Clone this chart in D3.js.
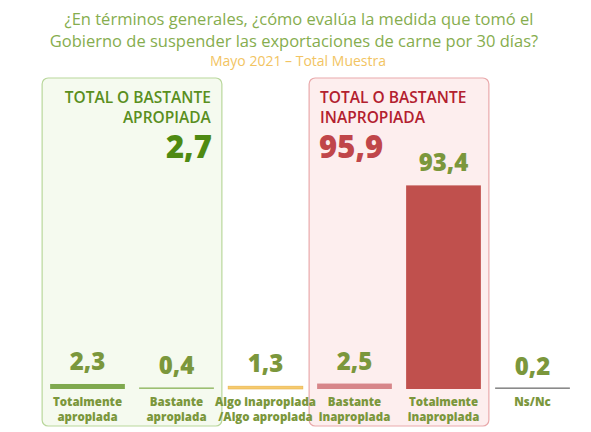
<!DOCTYPE html>
<html>
<head>
<meta charset="utf-8">
<script src="https://cdn.jsdelivr.net/npm/d3@7"></script>
<style>
  body { margin: 0; background: #fff; }
  text { font-family: "Open Sans", "Noto Sans", sans-serif; }
</style>
</head>
<body>
<div id="chart"></div>
<script>
const svgWidth = 591, svgHeight = 432;

const categories = ["Totalmente apropiada", "Bastante apropiada", "Algo inapropiada /Algo apropiada",
                    "Bastante inapropiada", "Totalmente inapropiada", "Ns/Nc"];
const labelLines = [["Totalmente", "apropiada"], ["Bastante", "apropiada"], ["Algo inapropiada", "/Algo apropiada"],
                    ["Bastante", "inapropiada"], ["Totalmente", "inapropiada"], ["Ns/Nc"]];
const values = [2.3, 0.4, 1.3, 2.5, 93.4, 0.2];
const barColors = ["#7fa94f", "#9cbf72", "#f6cb6e", "#d7868a", "#c0504d", "#8a8a8a"];
const groupTitles = ["TOTAL O BASTANTE|APROPIADA", "TOTAL O BASTANTE|INAPROPIADA"];
const groupTotals = [2.7, 95.9];

const fmt = v => String(v).replace(".", ",");

let svg = d3.select("#chart")
    .append("svg")
    .attr("width", svgWidth)
    .attr("height", svgHeight);

let x = d3.scaleBand()
    .domain(categories)
    .range([43, 577])
    .paddingInner(0.16)
    .paddingOuter(0.08);

let y = d3.scaleLinear()
    .domain([0, 100])
    .range([389, 171]);

// title
svg.append("text")
    .attr("x", 299).attr("y", 25)
    .attr("text-anchor", "middle")
    .attr("fill", "#86ad4e")
    .style("font-size", "16.5px")
    .text("¿En términos generales, ¿cómo evalúa la medida que tomó el");
svg.append("text")
    .attr("x", 294).attr("y", 47)
    .attr("text-anchor", "middle")
    .attr("fill", "#86ad4e")
    .style("font-size", "16.5px")
    .text("Gobierno de suspender las exportaciones de carne por 30 días?");
svg.append("text")
    .attr("x", 298).attr("y", 66)
    .attr("text-anchor", "middle")
    .attr("fill", "#f2c462")
    .style("font-size", "14px")
    .text("Mayo 2021 – Total Muestra");

// group boxes
function add_box(i0, i1, fill, stroke) {
    let x0 = x(categories[i0]) - 8;
    let x1 = x(categories[i1]) + x.bandwidth() + 8;
    svg.append("rect")
        .attr("x", x0).attr("y", 78)
        .attr("width", x1 - x0).attr("height", 348)
        .attr("rx", 6)
        .attr("fill", fill)
        .attr("stroke", stroke)
        .attr("stroke-width", 1.2);
    return [x0, x1];
}
let gb = add_box(0, 1, "#f5faef", "#b9d79c");
let rb = add_box(3, 4, "#fdeeee", "#e9a9ab");

// green group heading (right aligned)
groupTitles[0].split("|").forEach((t, i) => {
    svg.append("text")
        .attr("x", gb[1] - 11).attr("y", 103 + i * 20)
        .attr("text-anchor", "end")
        .attr("fill", "#5a8f1e")
        .style("font-size", "15.5px")
        .style("font-weight", 600)
        .text(t);
});
svg.append("text")
    .attr("x", gb[1] - 10).attr("y", 158)
    .attr("text-anchor", "end")
    .attr("fill", "#4e8a12")
    .style("font-size", "31px")
    .style("font-weight", 800)
    .text(fmt(groupTotals[0]));

// red group heading (left aligned)
groupTitles[1].split("|").forEach((t, i) => {
    svg.append("text")
        .attr("x", rb[0] + 11).attr("y", 103 + i * 20)
        .attr("fill", "#b3202e")
        .style("font-size", "15.5px")
        .style("font-weight", 600)
        .text(t);
});
svg.append("text")
    .attr("x", rb[0] + 10).attr("y", 158)
    .attr("fill", "#c0464a")
    .style("font-size", "31px")
    .style("font-weight", 800)
    .text(fmt(groupTotals[1]));

// bars
let bars = svg.append("g")
    .selectAll("g")
    .data(categories)
    .enter()
    .append("g");

bars.append("rect")
    .attr("x", d => x(d))
    .attr("width", x.bandwidth())
    .attr("y", (d, i) => Math.min(y(values[i]), y(0) - 1.6))
    .attr("height", (d, i) => Math.max(y(0) - y(values[i]), 1.6))
    .attr("fill", (d, i) => barColors[i])
    .attr("stroke", (d, i) => i == 2 ? "#e8b24a" : "none")
    .attr("stroke-width", 0.6);

bars.append("text")
    .attr("x", d => x(d) + x.bandwidth() / 2)
    .attr("y", (d, i) => y(values[i]) - 14)
    .attr("text-anchor", "middle")
    .attr("fill", "#7b973c")
    .style("font-size", "24px")
    .style("font-weight", 800)
    .text((d, i) => fmt(values[i]));

bars.each(function (d, i) {
    labelLines[i].forEach((t, j) => {
        d3.select(this).append("text")
            .attr("x", x(d) + x.bandwidth() / 2)
            .attr("y", 406 + j * 15)
            .attr("text-anchor", "middle")
            .attr("fill", "#7b973c")
            .style("font-size", "11.5px")
            .style("font-weight", 800)
            .text(t);
    });
});
</script>
</body>
</html>
